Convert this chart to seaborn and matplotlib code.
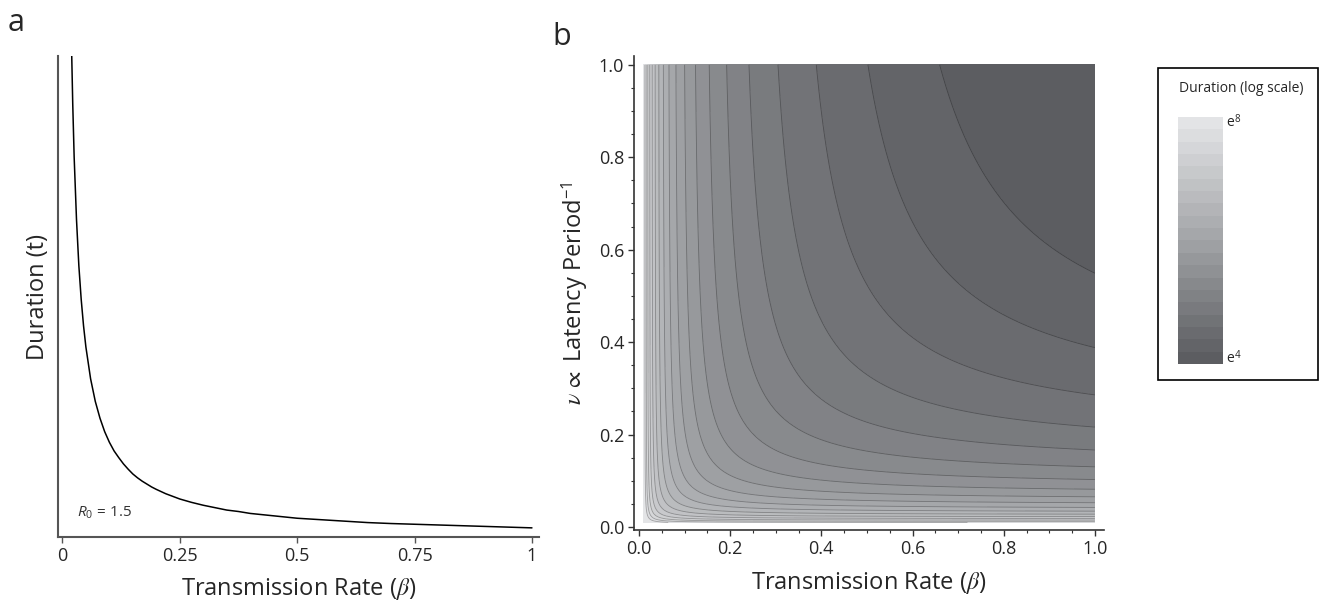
import numpy as np
import pandas as pd
import matplotlib
matplotlib.use("Agg")
import matplotlib.pyplot as plt
import seaborn as sns
from matplotlib.colors import ListedColormap, BoundaryNorm, LinearSegmentedColormap
from matplotlib.patches import Rectangle

# ---------------- data ----------------
# Panel a: duration curve (arbitrary units, axis top = 100)
beta_a = [0.019, 0.022, 0.025, 0.03, 0.035, 0.04, 0.045, 0.05, 0.06, 0.07, 0.08,
          0.09, 0.10, 0.11, 0.12, 0.13, 0.14, 0.15, 0.16, 0.17, 0.18, 0.19, 0.20,
          0.22, 0.25, 0.275, 0.30, 0.325, 0.35, 0.375, 0.40, 0.45, 0.50, 0.55,
          0.60, 0.65, 0.70, 0.80, 0.90, 1.00]
duration_a = [104, 90, 79, 66, 56.4, 49.4, 43.9, 39.5, 32.9, 28.2, 24.7,
              21.9, 19.7, 17.9, 16.5, 15.2, 14.1, 13.1, 12.3, 11.6, 11.0, 10.4, 9.9,
              9.0, 7.9, 7.2, 6.6, 6.1, 5.6, 5.3, 4.9, 4.4, 3.9, 3.6,
              3.3, 3.0, 2.8, 2.5, 2.2, 1.9]
r0_label = r"$\mathsf{R}_{\mathrm{0}}$ = 1.5"
x_ticks_a = [0, 0.25, 0.5, 0.75, 1]
x_ticklabels_a = ["0", "0.25", "0.5", "0.75", "1"]

beta_range = (0.01, 1.0)
nu_range = (0.01, 1.0)
beta_weight = 1.59          # relative weight of 1/beta vs 1/nu (from contour intercepts)
log_offset = 2.973          # log-duration offset (dark region boundary at e^4.2)
levels_b = np.round(np.arange(4.0, 8.0001, 0.2), 2)   # 20 bands, e^4 .. e^8
ticks_b = [0.0, 0.2, 0.4, 0.6, 0.8, 1.0]
cbar_labels = [r"e$^{4}$", r"e$^{8}$"]

# ---------------- style ----------------
sns.set_theme(style="ticks")
plt.rcParams["font.family"] = ["Open Sans", "DejaVu Sans"]
plt.rcParams["mathtext.fontset"] = "custom"
plt.rcParams["mathtext.rm"] = "Open Sans"
plt.rcParams["mathtext.it"] = "STIXGeneral:italic"
plt.rcParams["mathtext.sf"] = "Open Sans:italic"
plt.rcParams["mathtext.fallback"] = "stix"

W, H = 1322, 602
fig = plt.figure(figsize=(W / 100, H / 100), dpi=100)

def fr(l, t, r, b):
    return [l / W, 1 - b / H, (r - l) / W, (b - t) / H]

# ---------------- panel a ----------------
axa = fig.add_axes(fr(58, 56, 539, 537))
df_a = pd.DataFrame({"beta": beta_a, "duration": duration_a})
sns.lineplot(data=df_a, x="beta", y="duration", ax=axa, color="black", lw=1.1)
axa.set_xlim(-0.0094, 1.015)
axa.set_ylim(0, 100)
axa.set_xticks(x_ticks_a)
axa.set_xticklabels(x_ticklabels_a)
axa.set_yticks([])
for s in ["top", "right"]:
    axa.spines[s].set_visible(False)
for s in ["left", "bottom"]:
    axa.spines[s].set_color("#555555")
    axa.spines[s].set_linewidth(1.5)
axa.tick_params(axis="x", length=4, width=1, color="#555555", labelsize=13, pad=3)
axa.set_xlabel(r"Transmission Rate ($\beta$)", fontsize=17, labelpad=8)
axa.set_ylabel("Duration (t)", fontsize=17, labelpad=6)
axa.text(0.032, 5.1, r0_label, fontsize=11, ha="left", va="center", color="#333333")
fig.text(8 / W, 1 - 31 / H, "a", fontsize=22, ha="left", va="baseline")

# ---------------- panel b ----------------
axb = fig.add_axes(fr(634, 56, 1104, 530))
bx = np.linspace(*beta_range, 500)
ny = np.linspace(*nu_range, 500)
BX, NY = np.meshgrid(bx, ny)
logD = log_offset + np.log(beta_weight / BX + 1.0 / NY)
logD = np.clip(logD, levels_b[0] + 1e-6, levels_b[-1] - 1e-6)

cmap = LinearSegmentedColormap.from_list("grays", ["#5c5d61", "#a2a4a7", "#e3e4e6"])
band_colors = cmap(np.linspace(0, 1, len(levels_b) - 1))
cmap_d = ListedColormap(band_colors)
norm = BoundaryNorm(levels_b, cmap_d.N)
axb.contourf(BX, NY, logD, levels=levels_b, cmap=cmap_d, norm=norm)
line_colors = [tuple(np.array(band_colors[i - 1][:3]) * 0.72) for i in range(1, len(levels_b) - 1)]
axb.contour(BX, NY, logD, levels=levels_b[1:-1], colors=line_colors, linewidths=0.6)

axb.set_xlim(-0.011, 1.02)
axb.set_ylim(-0.0065, 1.019)
axb.set_xticks(ticks_b)
axb.set_yticks(ticks_b)
axb.set_xticklabels([f"{t:.1f}" for t in ticks_b])
axb.set_yticklabels([f"{t:.1f}" for t in ticks_b])
axb.set_xticks(np.arange(0, 1.0001, 0.05), minor=True)
axb.set_yticks(np.arange(0, 1.0001, 0.05), minor=True)
for s in ["top", "right"]:
    axb.spines[s].set_visible(False)
for s in ["left", "bottom"]:
    axb.spines[s].set_color("#333333")
    axb.spines[s].set_linewidth(1.2)
axb.tick_params(which="major", length=4, width=1, color="#333333", labelsize=13, pad=3)
axb.tick_params(which="minor", length=2, width=0.8, color="#333333")
axb.set_xlabel(r"Transmission Rate ($\beta$)", fontsize=17, labelpad=9)
axb.set_ylabel(r"$\nu\,\propto$ Latency Period$^{\mathrm{-1}}$", fontsize=17, labelpad=6)
fig.text(552 / W, 1 - 45 / H, "b", fontsize=22, ha="left", va="baseline")

# ---------------- colorbar legend ----------------
fig.patches.append(Rectangle((1158 / W, 1 - 380 / H), 160 / W, 312 / H,
                             transform=fig.transFigure, fill=False,
                             edgecolor="black", linewidth=1.2))
fig.text(1241 / W, 1 - 88 / H, "Duration (log scale)", fontsize=10, ha="center", va="center")
axc = fig.add_axes(fr(1178, 117, 1223, 364))
cb_vals = np.array(levels_b[:-1]) + 0.1
axc.imshow(cb_vals[::-1].reshape(-1, 1), cmap=cmap_d, norm=norm, aspect="auto",
           extent=(0, 1, levels_b[0], levels_b[-1]))
axc.set_xticks([])
axc.set_yticks([])
for s in axc.spines.values():
    s.set_visible(False)
fig.text(1226 / W, 1 - 122 / H, cbar_labels[1], fontsize=10, ha="left", va="center")
fig.text(1226 / W, 1 - 358 / H, cbar_labels[0], fontsize=10, ha="left", va="center")

fig.savefig("out.png", dpi=100)
